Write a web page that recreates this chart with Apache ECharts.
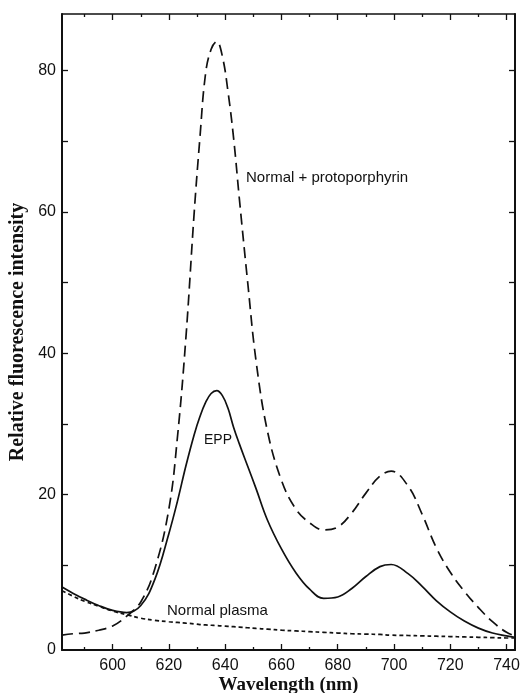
<!DOCTYPE html>
<html>
<head>
<meta charset="utf-8">
<script src="https://cdn.jsdelivr.net/npm/echarts@6/dist/echarts.min.js"></script>
<style>
  html, body { margin: 0; padding: 0; background: #fff; }
  #chart { width: 523px; height: 693px; }
</style>
</head>
<body>
<div id="chart"></div>
<script>
// wavelength (nm) shared by all three curves
const wavelengths = [582, 586, 590, 595, 600, 605, 610, 615, 620, 623, 626, 629, 631, 633, 635, 637, 639, 641, 643, 645, 648, 651, 655, 660, 665, 670, 675, 680, 685, 690, 695, 699, 705, 710, 715, 720, 725, 730, 735, 740, 743]
// Normal + protoporphyrin (long dashes)
const protoValues = [0.1, 0.3, 0.4, 0.8, 1.4, 2.8, 4.8, 9.5, 18, 28, 42, 60, 70.4, 79.5, 83, 84.1, 82, 77, 70.4, 62, 50, 38.8, 29, 22, 18, 16, 15, 15.4, 17.4, 20.2, 22.6, 23.3, 21.2, 17.2, 12.5, 9, 6.3, 4, 2, 0.5, 0]
// EPP (solid)
const eppValues = [6.9, 6.0, 5.2, 4.3, 3.6, 3.3, 4.3, 8.0, 14.5, 19, 24, 28.5, 31, 33, 34.3, 34.7, 34.0, 32.2, 29.5, 27.2, 24.0, 20.8, 16.4, 12.3, 9.0, 6.6, 5.3, 5.5, 6.7, 8.4, 9.8, 10.1, 8.8, 7.0, 5.0, 3.4, 2.1, 1.1, 0.4, 0, -0.2]
// Normal plasma (short dashes)
const plasmaValues = [6.4, 5.6, 4.9, 4.2, 3.5, 3.0, 2.5, 2.2, 2.0, 1.9, 1.8, 1.7, 1.6, 1.55, 1.5, 1.45, 1.4, 1.35, 1.3, 1.25, 1.15, 1.05, 0.95, 0.8, 0.7, 0.6, 0.5, 0.4, 0.3, 0.25, 0.2, 0.1, 0.05, 0, -0.05, -0.1, -0.15, -0.2, -0.25, -0.3, -0.3]

const xMajorTicks = [600, 620, 640, 660, 680, 700, 720, 740]
const xMinorTicks = [590, 610, 630, 650, 670, 690, 710, 730]
const yTicks = [10, 20, 30, 40, 50, 60, 70, 80]
const yLabels = [-2, 20, 40, 60, 80]

const X_MIN = 582, X_MAX = 743, Y_MIN = -2, Y_MAX = 88
const ink = '#111'

function pairs(vals) {
  return wavelengths.map((w, i) => [w, vals[i]])
}

function xAxisPart(pos, ticks, len, opts) {
  return Object.assign({
    type: 'value', position: pos, min: X_MIN, max: X_MAX,
    splitLine: { show: false },
    axisLine: { show: false, onZero: false },
    axisTick: { show: true, inside: true, length: len, customValues: ticks, lineStyle: { color: ink, width: 1.3 } },
    axisLabel: { show: false }
  }, opts || {})
}

const chart = echarts.init(document.getElementById('chart'))

const option = {
  backgroundColor: '#fff',
  animation: false,
  grid: { left: 62, right: 8, top: 14, bottom: 43, outerBoundsMode: 'none' },
  xAxis: [
    xAxisPart('bottom', xMajorTicks, 6, {
      axisLine: { show: true, onZero: false, lineStyle: { color: ink, width: 2 } },
      axisLabel: {
        show: true, customValues: xMajorTicks, color: ink, margin: 8,
        fontFamily: 'Liberation Sans', fontSize: 16
      },
      name: 'Wavelength (nm)',
      nameLocation: 'middle',
      nameGap: 26,
      nameMoveOverlap: false,
      nameTextStyle: { fontFamily: 'Liberation Serif', fontWeight: 'bold', fontSize: 19, color: ink }
    }),
    xAxisPart('bottom', xMinorTicks, 3),
    xAxisPart('top', xMajorTicks, 6, {
      axisLine: { show: true, onZero: false, lineStyle: { color: ink, width: 1.5 } }
    }),
    xAxisPart('top', xMinorTicks, 3)
  ],
  yAxis: [
    {
      type: 'value', position: 'left', min: Y_MIN, max: Y_MAX,
      splitLine: { show: false },
      axisLine: { show: true, onZero: false, lineStyle: { color: ink, width: 2 } },
      axisTick: { show: true, inside: true, length: 6, customValues: yTicks, lineStyle: { color: ink, width: 1.3 } },
      axisLabel: {
        show: true, customValues: yLabels, color: ink, margin: 6,
        fontFamily: 'Liberation Sans', fontSize: 16,
        verticalAlignMinLabel: 'middle',
        formatter: v => (v < 0 ? '0' : String(v))
      },
      name: 'Relative fluorescence intensity',
      nameLocation: 'middle',
      nameGap: 34,
      nameMoveOverlap: false,
      nameTextStyle: { fontFamily: 'Liberation Serif', fontWeight: 'bold', fontSize: 20, color: ink }
    },
    {
      type: 'value', position: 'right', min: Y_MIN, max: Y_MAX,
      splitLine: { show: false },
      axisLine: { show: true, onZero: false, lineStyle: { color: ink, width: 2 } },
      axisTick: { show: true, inside: true, length: 6, customValues: yTicks, lineStyle: { color: ink, width: 1.3 } },
      axisLabel: { show: false }
    }
  ],
  series: [
    {
      name: 'Normal + protoporphyrin', type: 'line', data: pairs(protoValues),
      smooth: 0.4, symbol: 'none',
      lineStyle: { color: ink, width: 1.7, type: [11, 6] }
    },
    {
      name: 'EPP', type: 'line', data: pairs(eppValues),
      smooth: 0.4, symbol: 'none',
      lineStyle: { color: ink, width: 1.7 }
    },
    {
      name: 'Normal plasma', type: 'line', data: pairs(plasmaValues),
      smooth: 0.4, symbol: 'none',
      lineStyle: { color: ink, width: 1.7, type: [4, 3] }
    }
  ],
  graphic: [
    { type: 'text', left: 246, top: 170, style: { text: 'Normal + protoporphyrin', font: '15px "Liberation Sans"', fill: ink } },
    { type: 'text', left: 204, top: 433, style: { text: 'EPP', font: '14px "Liberation Sans"', fill: ink } },
    { type: 'text', left: 167, top: 603, style: { text: 'Normal plasma', font: '15px "Liberation Sans"', fill: ink } }
  ]
}

chart.setOption(option)
</script>
</body>
</html>
